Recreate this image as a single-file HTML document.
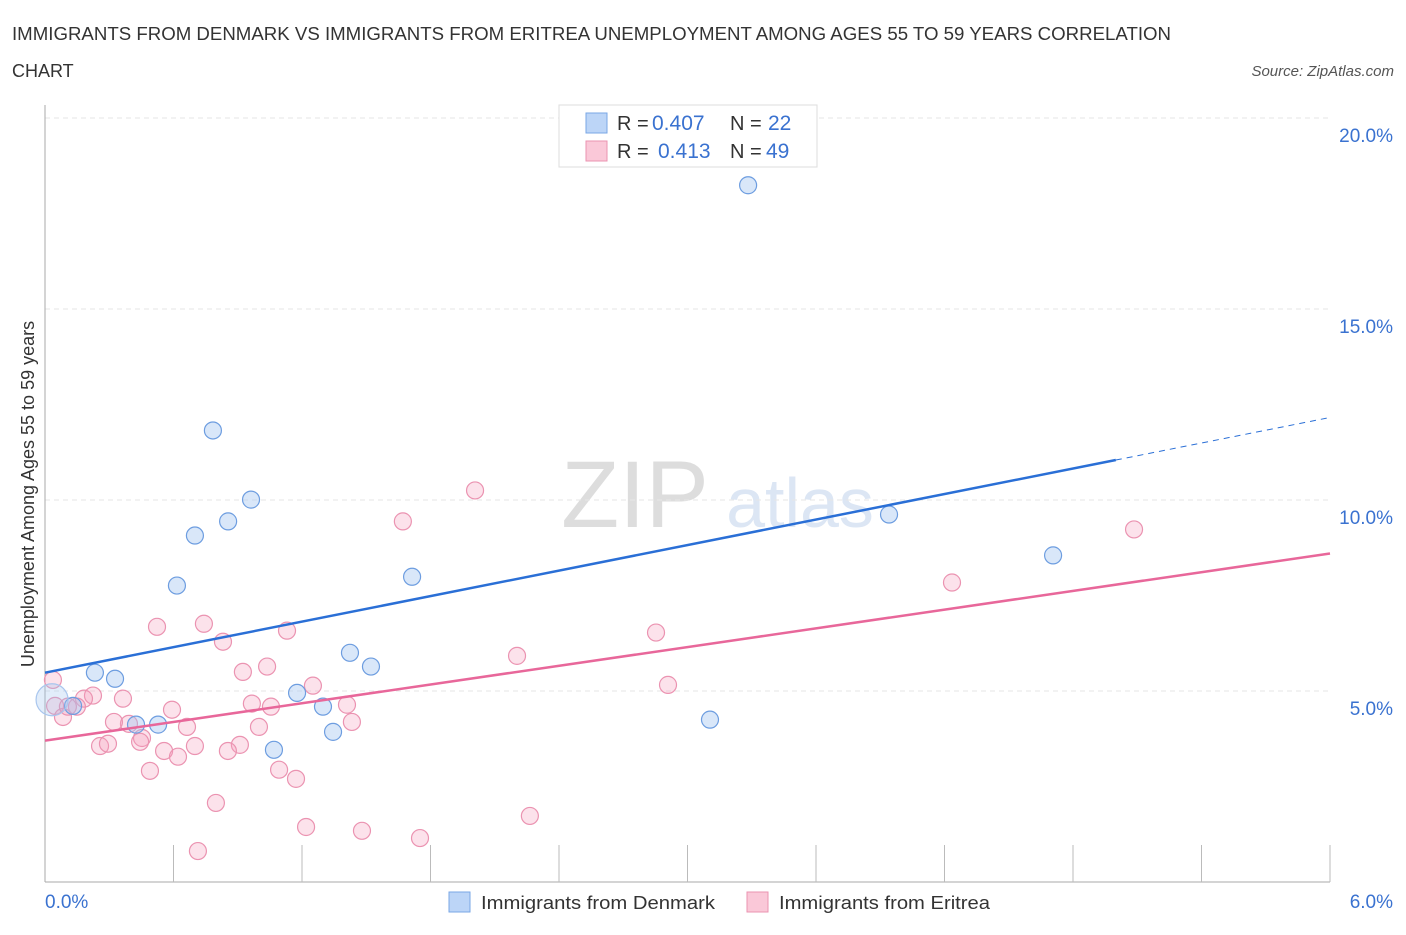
<!DOCTYPE html>
<html><head><meta charset="utf-8"><style>
body{margin:0;background:#fff;font-family:"Liberation Sans",sans-serif}
svg text{font-family:"Liberation Sans",sans-serif}
</style></head><body>
<svg id="chart" width="1406" height="930" xmlns="http://www.w3.org/2000/svg">
<text x="12" y="40" font-size="18" fill="#333" textLength="1159" lengthAdjust="spacingAndGlyphs">IMMIGRANTS FROM DENMARK VS IMMIGRANTS FROM ERITREA UNEMPLOYMENT AMONG AGES 55 TO 59 YEARS CORRELATION</text>
<text x="12" y="77" font-size="18" fill="#333">CHART</text>
<text x="1394" y="76" font-size="15" fill="#555" font-style="italic" text-anchor="end">Source: ZipAtlas.com</text>
<text x="635" y="527" font-size="95" fill="#ddd" font-family="Liberation Serif" text-anchor="middle">ZIP</text>
<text x="800" y="527" font-size="70" fill="#dce6f4" text-anchor="middle">atlas</text>
<g id="grid"></g><g id="axes"></g><g id="marks"></g><g id="lines"></g>
<text transform="translate(34,494) rotate(-90)" font-size="18" fill="#333" text-anchor="middle">Unemployment Among Ages 55 to 59 years</text>
<g>
<rect x="559" y="105" width="258" height="62" fill="#fff" stroke="#ddd"/>
<rect x="586" y="113" width="21" height="20" fill="#bcd5f7" stroke="#7aa7e6"/>
<rect x="586" y="141" width="21" height="20" fill="#fac8d8" stroke="#eb93b1"/>
<text x="617" y="130" font-size="20" fill="#333">R =</text>
<text x="652" y="130" font-size="21" fill="#3a72d0">0.407</text>
<text x="730" y="130" font-size="20" fill="#333">N =</text>
<text x="768" y="130" font-size="21" fill="#3a72d0">22</text>
<text x="617" y="158" font-size="20" fill="#333">R =</text>
<text x="658" y="158" font-size="21" fill="#3a72d0">0.413</text>
<text x="730" y="158" font-size="20" fill="#333">N =</text>
<text x="766" y="158" font-size="21" fill="#3a72d0">49</text>
</g>
<g>
<rect x="449" y="892" width="21" height="20" fill="#bcd5f7" stroke="#7aa7e6"/>
<text x="481" y="909" font-size="18" fill="#333" textLength="234" lengthAdjust="spacingAndGlyphs">Immigrants from Denmark</text>
<rect x="747" y="892" width="21" height="20" fill="#fac8d8" stroke="#eb93b1"/>
<text x="779" y="909" font-size="18" fill="#333" textLength="211" lengthAdjust="spacingAndGlyphs">Immigrants from Eritrea</text>
</g>
</svg>
<script>
const yTicks=[5,10,15,20];
const yTickLabels=["5.0%","10.0%","15.0%","20.0%"];
const xTickCount=10;
const xEndLabels=["0.0%","6.0%"];
const denmarkX=[3.283,0.784,0.962,0.855,0.700,0.616,1.714,3.941,4.707,1.424,1.522,0.233,0.327,1.177,1.298,1.345,1.069,0.528,0.425,3.105,0.131,0.033];
const denmarkY=[18.24,11.82,10.01,9.44,9.07,7.76,7.99,9.62,8.55,6.00,5.64,5.48,5.32,4.95,4.59,3.93,3.46,4.12,4.12,4.25,4.61,4.77];
const eritreaX=[0.523,0.742,0.831,1.130,0.924,1.037,1.251,1.410,1.433,1.055,0.966,0.999,0.910,0.854,0.700,0.663,0.593,0.453,0.392,0.322,0.364,0.224,0.182,0.037,0.047,0.084,0.149,0.107,0.257,0.294,0.556,0.621,0.490,0.798,1.093,1.172,1.219,1.480,0.714,1.751,1.671,2.008,2.204,2.853,2.909,4.235,5.085,2.264,0.444];
const eritreaY=[6.68,6.76,6.29,6.58,5.50,5.64,5.14,4.64,4.19,4.59,4.67,4.06,3.59,3.43,3.56,4.06,4.51,3.77,4.14,4.19,4.80,4.88,4.80,5.29,4.61,4.32,4.59,4.59,3.56,3.62,3.43,3.28,2.91,2.07,2.94,2.70,1.44,1.34,0.81,1.15,9.44,10.25,5.92,6.53,5.16,7.84,9.23,1.73,3.67];
const denmarkTrend=[5.48,12.16];
const denmarkSolidEnd=5.0;
const eritreaTrend=[3.70,8.60];
const NS="http://www.w3.org/2000/svg";
const X=v=>45+v/6*1285, Y=v=>882-v/20*764;
function mk(p,t,a){const e=document.createElementNS(NS,t);for(const k in a)e.setAttribute(k,a[k]);document.getElementById(p).appendChild(e);return e;}
yTicks.forEach((t,i)=>{
 const l=mk('grid','line',{x1:45,x2:1330,y1:Y(t),y2:Y(t),stroke:'#e6e6e6','stroke-dasharray':'5,4'});
 
 
 const tx=mk('grid','text',{x:1393,y:Y(t)+24,'font-size':19,fill:'#3a72d0','text-anchor':'end'});
 tx.textContent=yTickLabels[i];
 
 
});
const ax=mk('axes','line',{x1:45,x2:45,y1:105,y2:882,stroke:'#aaa'});


const bx=mk('axes','line',{x1:45,x2:1330,y1:882,y2:882,stroke:'#aaa'});


for(let i=1;i<=xTickCount;i++){
 const v=6*i/xTickCount;
 const t=mk('axes','line',{x1:X(v),x2:X(v),y1:845,y2:882,stroke:'#bbb'});
 
 
}
[[0,'start',45],[6,'end',1393]].forEach((d,i)=>{
 const t=mk('axes','text',{x:d[2],y:908,'font-size':19,fill:'#3a72d0','text-anchor':d[1]});
 t.textContent=xEndLabels[i];
 
 
});
eritreaX.forEach((x,i)=>{
 const c=mk('marks','circle',{cx:X(x),cy:Y(eritreaY[i]),r:8.5,fill:'rgba(245,160,190,0.3)',stroke:'#eb93b1','stroke-width':1.2});
 
 
});
denmarkX.forEach((x,i)=>{
 const big=i==denmarkX.length-1;
 const c=mk('marks','circle',{cx:X(x),cy:Y(denmarkY[i]),r:big?16:8.5,fill:big?'rgba(160,195,240,0.3)':'rgba(160,195,240,0.4)',stroke:big?'#a9c6ee':'#6d9de0','stroke-width':1.2});
 
 
});
const yb=x=>denmarkTrend[0]+(denmarkTrend[1]-denmarkTrend[0])*x/6;
const l1=mk('lines','line',{x1:X(0),y1:Y(denmarkTrend[0]),x2:X(denmarkSolidEnd),y2:Y(yb(denmarkSolidEnd)),stroke:'#2a6fd6','stroke-width':2.5});


const l2=mk('lines','line',{x1:X(denmarkSolidEnd),y1:Y(yb(denmarkSolidEnd)),x2:X(6),y2:Y(denmarkTrend[1]),stroke:'#2a6fd6','stroke-width':1,'stroke-dasharray':'6,5'});


const l3=mk('lines','line',{x1:X(0),y1:Y(eritreaTrend[0]),x2:X(6),y2:Y(eritreaTrend[1]),stroke:'#e8679a','stroke-width':2.5});


</script>
</body></html>
